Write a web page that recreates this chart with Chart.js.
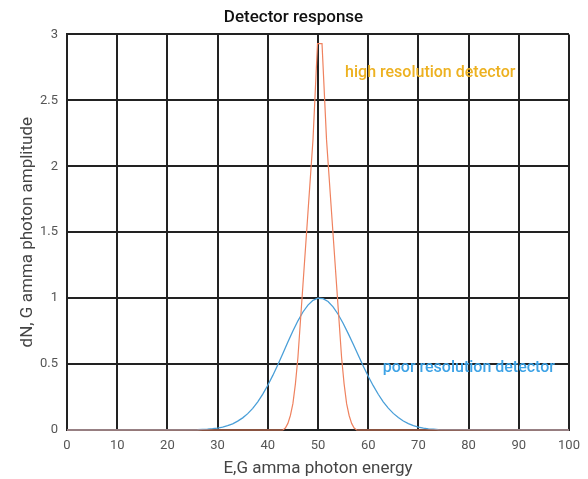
<!DOCTYPE html>
<html>
<head>
<meta charset="utf-8">
<script src="https://cdn.jsdelivr.net/npm/chart.js@4"></script>
<style>
  html, body { margin: 0; padding: 0; background: #fff; }
  #wrap { width: 588px; height: 479px; }
</style>
</head>
<body>
<div id="wrap"><canvas id="chart" width="588" height="479"></canvas></div>
<script>
// energy axis (x) for each series
const poorEnergy = [0, 26, 27, 28, 29, 30, 31, 32, 33, 34, 35, 36, 37, 38, 39, 40, 41, 42, 43, 44, 45, 46, 47, 48, 49, 50,
  51, 52, 53, 54, 55, 56, 57, 58, 59, 60, 61, 62, 63, 64, 65, 66, 67, 68, 69, 70, 71, 72, 73, 74, 100];
const poorAmplitude = [0, 0.002, 0.004, 0.006, 0.01, 0.015, 0.022, 0.033, 0.047, 0.067, 0.092, 0.124, 0.164, 0.214, 0.272, 0.339, 0.414, 0.495, 0.58, 0.667, 0.751, 0.828, 0.895, 0.947, 0.983, 0.999,
  0.996, 0.974, 0.934, 0.878, 0.81, 0.733, 0.652, 0.568, 0.486, 0.408, 0.336, 0.271, 0.214, 0.166, 0.126, 0.094, 0.068, 0.048, 0.033, 0.022, 0.015, 0.009, 0.006, 0.003, 0];

const highEnergy = [0, 43, 43.5, 44, 44.5, 45, 45.5, 46, 47, 48, 49, 49.9,
  50.8, 51.7, 52.7, 53.7, 54.7, 55.2, 55.7, 56.2, 56.7, 57.2, 57.7, 100];
const highAmplitude = [0, 0, 0.015, 0.05, 0.11, 0.2, 0.35, 0.55, 1.1, 1.65, 2.2, 2.93,
  2.93, 2.2, 1.65, 1.1, 0.55, 0.35, 0.2, 0.11, 0.05, 0.015, 0, 0];

const xTicks = [0, 10, 20, 30, 40, 50, 60, 70, 80, 90, 100];
const yTicks = [0, 0.5, 1, 1.5, 2, 2.5, 3];

const labels = [
  { text: 'high resolution detector', x: 55.4, y: 2.71, color: '#edb120' },
  { text: 'poor resolution detector', x: 62.9, y: 0.47, color: '#3ea3e6' },
];

const toPoints = (xs, ys) => xs.map((x, i) => ({ x, y: ys[i] }));

// text annotations placed in data units
const annotate = {
  id: 'annotate',
  afterDatasetsDraw(chart) {
    const { ctx, scales } = chart;
    ctx.save();
    ctx.font = '500 16px Roboto';
    ctx.textBaseline = 'middle';
    ctx.textAlign = 'left';
    labels.forEach(l => {
      ctx.fillStyle = l.color;
      ctx.fillText(l.text, scales.x.getPixelForValue(l.x), scales.y.getPixelForValue(l.y));
    });
    ctx.restore();
  }
};

new Chart(document.getElementById('chart'), {
  type: 'line',
  data: {
    datasets: [
      {
        label: 'high resolution detector',
        data: toPoints(highEnergy, highAmplitude),
        borderColor: '#ef825f',
        borderWidth: 1.2,
        pointRadius: 0,
        tension: 0,
        clip: 4,
      },
      {
        label: 'poor resolution detector',
        data: toPoints(poorEnergy, poorAmplitude),
        borderColor: '#4a9fd8',
        borderWidth: 1.3,
        pointRadius: 0,
        tension: 0,
        clip: 4,
      },
    ],
  },
  options: {
    responsive: false,
    animation: false,
    layout: { padding: { left: 18, right: 19, top: 0, bottom: 0 } },
    plugins: {
      legend: { display: false },
      tooltip: { enabled: false },
      title: {
        display: true,
        text: 'Detector response',
        color: '#111',
        font: { family: 'Roboto', size: 17, weight: '500' },
        padding: { top: 8, bottom: 6 },
      },
    },
    scales: {
      x: {
        type: 'linear',
        min: 0,
        max: 100,
        afterBuildTicks: axis => { axis.ticks = xTicks.map(v => ({ value: v })); },
        afterFit: axis => { axis.height = 49; },
        ticks: { color: '#555', font: { family: 'Roboto', size: 13 }, padding: 8, maxRotation: 0, callback: v => String(v) },
        grid: { color: '#222', lineWidth: 2, tickLength: 0 },
        border: { color: '#222', width: 2 },
        title: {
          display: true,
          text: 'E,G amma photon energy',
          color: '#444',
          font: { family: 'Roboto', size: 17 },
          padding: { top: 0, bottom: 0 },
        },
      },
      y: {
        min: 0,
        max: 3,
        afterBuildTicks: axis => { axis.ticks = yTicks.map(v => ({ value: v })); },
        afterFit: axis => { axis.width = 49; },
        ticks: { color: '#555', font: { family: 'Roboto', size: 13 }, padding: 9, callback: v => String(v) },
        grid: { color: '#222', lineWidth: 2, tickLength: 0 },
        border: { color: '#222', width: 2 },
        title: {
          display: true,
          text: 'dN, G amma photon amplitude',
          color: '#444',
          font: { family: 'Roboto', size: 17 },
          padding: 0,
        },
      },
    },
  },
  plugins: [annotate],
});
</script>
</body>
</html>
